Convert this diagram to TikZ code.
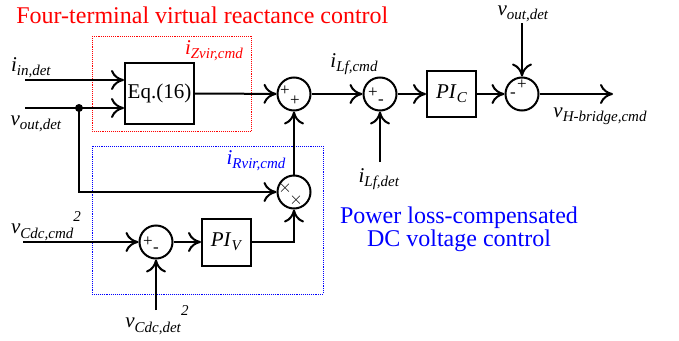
\documentclass[tikz,border=0pt]{standalone}
\usepackage{fontspec}
\setmainfont{Liberation Serif}
\usetikzlibrary{positioning, arrows.meta}

\newcommand{\sgl}[2]{\textit{#1}\raisebox{-0.45ex}{\fontsize{15}{15}\selectfont\textit{#2}}}
\newcommand{\sqr}{\raisebox{1.3ex}{\fontsize{15}{15}\selectfont\textit{2}}}

\begin{document}
\begin{tikzpicture}[x=1pt, y=-1pt, font=\fontsize{21}{24}\selectfont, line width=2pt]

% --- Styles ---
\tikzset{
    sig/.style={-{Computer Modern Rightarrow[length=13pt, width=20pt]}},
    blk/.style={rectangle, draw, inner sep=0pt, minimum width=49pt, minimum height=46pt},
    sumnode/.style={circle, draw, minimum size=33pt, inner sep=0pt},
    sgn/.style={font=\fontsize{17}{17}\selectfont, inner sep=0pt},
    frame/.style={densely dotted, line width=0.9pt},
    note/.style={font=\fontsize{24}{24}\selectfont},
}

\useasboundingbox (0,0) rectangle (679,340);

% --- Frames ---
\draw[frame, red] (92,36) rectangle (251,131);
\draw[frame, blue] (92,146) rectangle (323,294);
\node[note, text=red, anchor=west] (title) at (12,15) {Four-terminal virtual reactance control};
\node[text=red] (izlbl) at (214,51) {\sgl{i}{Zvir,cmd}};
\node[text=blue] (irlbl) at (256,161) {\sgl{i}{Rvir,cmd}};
\node[note, text=blue, align=center] (dclbl) at (459,229) {Power loss-compensated\\[-1pt]DC voltage control};

% --- Blocks ---
\node[blk, minimum width=69pt, minimum height=61pt] (eq) at (159.5,93.5) {Eq.(16)};
\node[sumnode] (sum1) at (294,94) {};
\node[sumnode] (sum3) at (380,94) {};
\node[blk] (pic) at (451.5,94) {\sgl{PI}{C}};
\node[sumnode] (sum4) at (522,94) {};
\node[sumnode] (mul) at (294,192) {};
\node[sumnode] (sum2) at (156,242) {};
\node[blk, minimum height=47pt] (piv) at (226.5,242) {\sgl{PI}{V}};

% --- Signs ---
\node[sgn] at ([shift={(-9,-3)}]sum1.center) {+};
\node[sgn] at ([shift={(1,7)}]sum1.center) {+};
\node[sgn] at ([shift={(-7,-1)}]sum3.center) {+};
\node[sgn] at ([shift={(1,8)}]sum3.center) {-};
\node[sgn] at ([shift={(0,-9)}]sum4.center) {+};
\node[sgn] at ([shift={(-9,1)}]sum4.center) {-};
\node[sgn] at ([shift={(-8,0)}]sum2.center) {+};
\node[sgn] at ([shift={(0,8)}]sum2.center) {-};
\node[sgn] at ([shift={(-9,-4)}]mul.center) {$\times$};
\node[sgn] at ([shift={(2,8)}]mul.center) {$\times$};

% --- Inputs and outputs ---
\coordinate (iin) at (25,80);
\coordinate (vin) at (25,108);
\coordinate (dot) at (79,108);
\coordinate (vtop) at (522,23);
\coordinate (out) at (613,94);
\coordinate (ilf) at (380,162);
\coordinate (vcmd) at (23,242);
\coordinate (vdet) at (156,310);

\node (iinlbl) at (31,68) {\sgl{i}{in,det}};
\node (voutlbl) at (36,124) {\sgl{v}{out,det}};
\node (ilfcmd) at (354,64) {\sgl{i}{Lf,cmd}};
\node[inner sep=0pt] (vtoplbl) at (523,14) {\sgl{v}{out,det}};
\node (vhlbl) at (600,116) {\sgl{v}{H-bridge,cmd}};
\node (ilfdet) at (379,179) {\sgl{i}{Lf,det}};
\node (vcmdlbl) at (46,226) {\sgl{v}{Cdc,cmd}\sqr};
\node (vdetlbl) at (157,320) {\sgl{v}{Cdc,det}\sqr};

% --- Connectors ---
\draw[sig] (iin) -- (iin -| eq.west);
\draw[sig] (vin) -- (vin -| eq.west);
\fill (dot) circle (4pt);
\draw[sig] (eq.east) -- (sum1);
\draw[sig] (sum1) -- (sum3);
\draw[sig] (sum3) -- (pic);
\draw[sig] (pic) -- (sum4);
\draw[sig] (sum4) -- (out);
\draw[sig] (vtop) -- (sum4);
\draw[sig] (ilf) -- (sum3);
\draw[sig] (mul) -- (sum1);
\draw[sig] (dot) |- (mul);
\draw[sig] (vcmd) -- (sum2);
\draw[sig] (vdet) -- (sum2);
\draw[sig] (sum2) -- (piv);
\draw[sig] (piv) -| (mul);

\end{tikzpicture}
\end{document}
